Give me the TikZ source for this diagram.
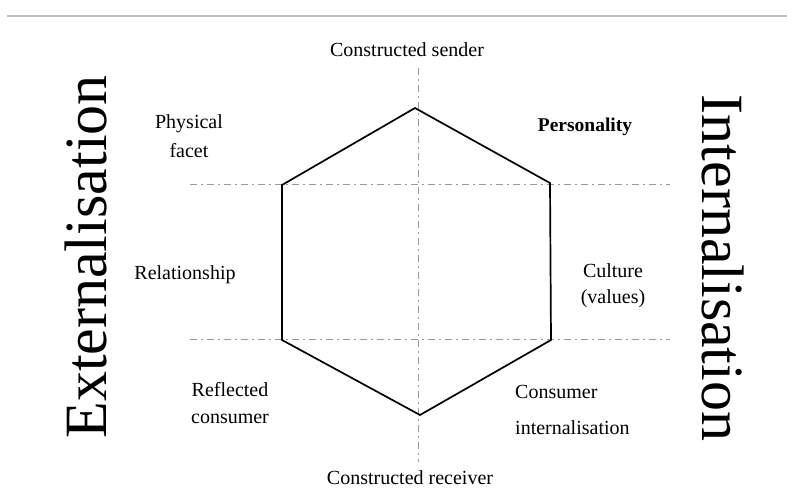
\documentclass[tikz,border=0pt]{standalone}
\usepackage{fontspec}
\setmainfont{Liberation Serif}
\begin{document}
\begin{tikzpicture}[x=1pt,y=-1pt,
  facet/.style={font=\fontsize{20}{28}\selectfont, align=center, inner sep=0pt},
  axis/.style={font=\fontsize{60}{60}\selectfont, inner sep=0pt},
  guide/.style={draw=black!40, line width=0.8pt, dash pattern=on 7pt off 4pt on 2pt off 4pt},
  prism/.style={draw=black, line width=1.7pt, line join=miter}]
  \useasboundingbox (0,0) rectangle (787,488);
  % rule at the head of the page
  \draw[black!25, line width=1.5pt] (7,16) -- (787,16);

  % prism corners
  \coordinate (top) at (415,108);
  \coordinate (ur) at (550,183);
  \coordinate (lr) at (551,340);
  \coordinate (bot) at (420,415);
  \coordinate (ll) at (282,340);
  \coordinate (ul) at (282,185);

  % guide lines
  \coordinate (hl1) at (190,184); \coordinate (hr1) at (670,184);
  \coordinate (hl2) at (190,339); \coordinate (hr2) at (670,339);
  \coordinate (vt) at (418,68);  \coordinate (vb) at (418,462);
  \draw[guide] (hl1) -- (hr1);
  \draw[guide] (hl2) -- (hr2);
  \draw[guide] (vt) -- (vb);

  % the prism
  \draw[prism] (top) -- (ur) -- (lr) -- (bot) -- (ll) -- (ul) -- cycle;

  % facet labels
  \node[facet] (sender) at (407,50) {Constructed sender};
  \node[facet, font=\fontsize{20}{29}\selectfont] (physical) at (189,136) {Physical\\facet};
  \node[facet, font=\fontsize{19.5}{22}\selectfont\bfseries] (personality) at (585,127) {Personality};
  \node[facet] (relationship) at (185,275) {Relationship};
  \node[facet, font=\fontsize{20}{26}\selectfont] (culture) at (613,286) {Culture\\(values)};
  \node[facet, font=\fontsize{20}{27}\selectfont] (reflected) at (230,403) {Reflected\\consumer};
  \node[facet, align=left, anchor=west, font=\fontsize{20}{36}\selectfont] (internal) at (515,410) {Consumer\\internalisation};
  \node[facet] (receiver) at (410,478) {Constructed receiver};

  % side captions
  \node[axis, rotate=90] (ext) at (86,257) {Externalisation};
  \node[axis, rotate=-90] (int) at (723,268) {Internalisation};
\end{tikzpicture}
\end{document}
